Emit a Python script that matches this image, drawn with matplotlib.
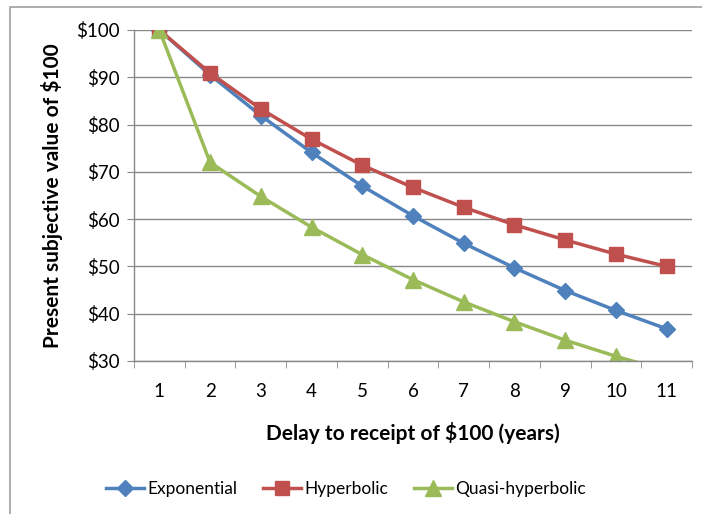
import numpy as np
import matplotlib.pyplot as plt
from matplotlib.patches import Rectangle

plt.rcParams['font.family'] = ['Lato', 'DejaVu Sans']

# data
delay = [1, 2, 3, 4, 5, 6, 7, 8, 9, 10, 11]
exponential = [100, 90.5, 81.9, 74.1, 67.0, 60.7, 54.9, 49.7, 44.9, 40.7, 36.8]
hyperbolic = [100, 90.9, 83.3, 76.9, 71.4, 66.7, 62.5, 58.8, 55.6, 52.6, 50.0]
quasi = [100, 72.0, 64.8, 58.3, 52.5, 47.2, 42.5, 38.3, 34.4, 31.0, 27.9]
yticks = [30, 40, 50, 60, 70, 80, 90, 100]

fig = plt.figure(figsize=(7.02, 5.14), dpi=100)
# outer chart border
fig.patches.append(Rectangle((10/702, -0.1), 1.2, 1 - 7/514 + 0.1, transform=fig.transFigure,
                             fill=False, edgecolor='#a0a0a0', linewidth=1.2))

ax = fig.add_axes([134/702, 1 - 361/514, (692 - 134)/702, (361 - 30)/514])

grid_col = '#888888'
ax.plot(delay, exponential, color='#4F81BD', lw=2.5, marker='D', ms=8, label='Exponential')
ax.plot(delay, hyperbolic, color='#C0504D', lw=2.5, marker='s', ms=9.5, label='Hyperbolic')
ax.plot(delay, quasi, color='#9BBB59', lw=2.5, marker='^', ms=11, label='Quasi-hyperbolic')

ax.set_xlim(0.5, 11.5)
ax.set_ylim(30, 100)
ax.set_yticks(yticks)
ax.set_yticklabels(['\\$%d' % v for v in yticks])
ax.set_xticks(delay)
ax.set_xticks(np.arange(0.5, 12, 1), minor=True)
ax.yaxis.grid(True, color=grid_col, lw=1)
ax.set_axisbelow(True)
for s in ['top', 'right']:
    ax.spines[s].set_visible(False)
for s in ['left', 'bottom']:
    ax.spines[s].set_color(grid_col)
    ax.spines[s].set_linewidth(1)
ax.tick_params(axis='x', which='major', length=0, pad=16, labelsize=13.5)
ax.tick_params(axis='x', which='minor', length=5, color=grid_col, direction='out')
ax.tick_params(axis='y', length=5, color=grid_col, labelsize=13.5, pad=5)

ax.set_xlabel('Delay to receipt of \\$100 (years)', fontsize=15, fontweight='bold', labelpad=16)
ax.set_ylabel('Present subjective value of \\$100', fontsize=15, fontweight='bold', labelpad=10)

fig.legend(loc='center', bbox_to_anchor=(346/702, 1 - 489/514), ncol=3, frameon=False,
           fontsize=12.5, handlelength=2.2, handletextpad=0.2, columnspacing=1.45)

fig.savefig('out.png', dpi=100)
